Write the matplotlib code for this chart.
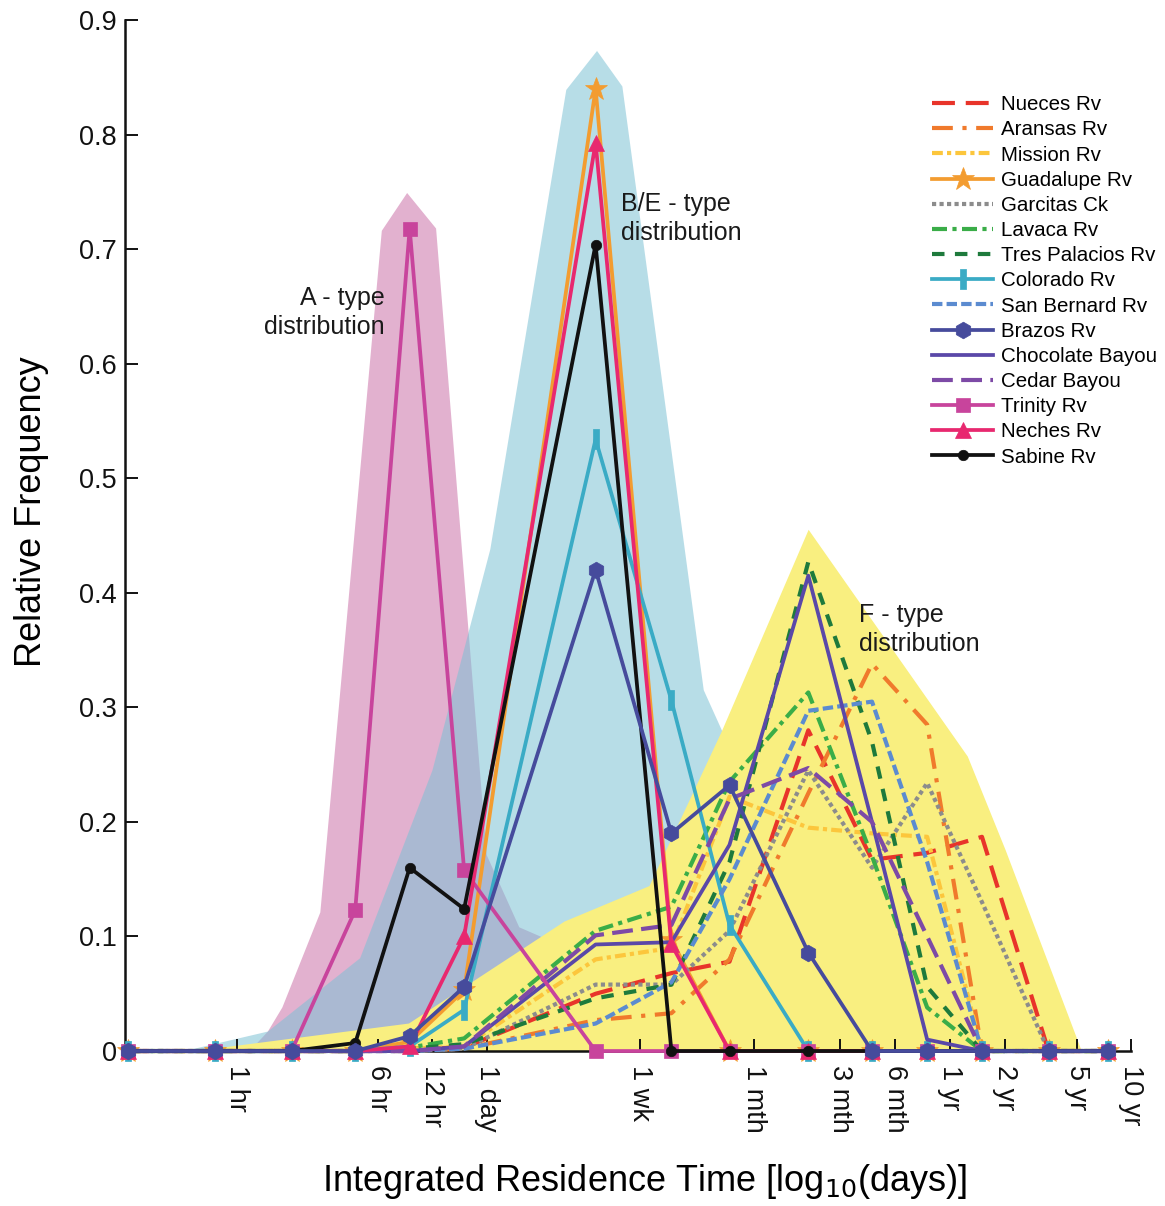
import numpy as np
import matplotlib
matplotlib.use("Agg")
import matplotlib.pyplot as plt
from matplotlib.path import Path

plt.rcParams['font.family'] = ['Liberation Sans', 'DejaVu Sans']

# bin centres (days): 0-30min, 30-60min, 1-3hr, 3-6hr, 6-12hr, 12-24hr, 1d-1wk,
# 1-2wk, 2wk-1mth, 1-3mth, 3-6mth, 6mth-1yr, 1-2yr, 2-5yr, 5-10yr
bin_days = [15/1440, 45/1440, 2/24, 4.5/24, 9/24, 18/24, 4, 10.5, 22,
            60, 135, 272.5, 547.5, 1277.5, 2737.5]

tick_days = [1/24, 0.25, 0.5, 1, 7, 30, 90, 180, 365, 730, 1825, 3650]
tick_names = ['1 hr', '6 hr', '12 hr', '1 day', '1 wk', '1 mth', '3 mth',
              '6 mth', '1 yr', '2 yr', '5 yr', '10 yr']

nueces = [0, 0, 0, 0, 0.002, 0.003, 0.05, 0.068, 0.078, 0.28, 0.167, 0.173, 0.187, 0, 0]
aransas = [0, 0, 0, 0, 0, 0.002, 0.027, 0.033, 0.08, 0.225, 0.338, 0.285, 0, 0, 0]
mission = [0, 0, 0, 0, 0.002, 0.004, 0.08, 0.09, 0.222, 0.195, 0.19, 0.187, 0, 0, 0]
guadalupe = [0, 0, 0, 0, 0.008, 0.053, 0.84, 0.097, 0, 0, 0, 0, 0, 0, 0]
garcitas = [0, 0, 0, 0, 0, 0.002, 0.058, 0.058, 0.105, 0.245, 0.16, 0.234, 0.13, 0, 0]
lavaca = [0, 0, 0, 0, 0.003, 0.011, 0.105, 0.126, 0.235, 0.313, 0.17, 0.038, 0, 0, 0]
tres_palacios = [0, 0, 0, 0, 0.002, 0.006, 0.046, 0.058, 0.165, 0.427, 0.27, 0.056, 0, 0, 0]
colorado = [0, 0, 0, 0, 0.004, 0.036, 0.534, 0.306, 0.11, 0, 0, 0, 0, 0, 0]
san_bernard = [0, 0, 0, 0, 0, 0.002, 0.024, 0.06, 0.15, 0.297, 0.305, 0.165, 0, 0, 0]
brazos = [0, 0, 0, 0, 0.013, 0.056, 0.42, 0.19, 0.232, 0.086, 0, 0, 0, 0, 0]
chocolate = [0, 0, 0, 0, 0, 0.004, 0.093, 0.095, 0.18, 0.415, 0.2, 0.01, 0, 0, 0]
cedar = [0, 0, 0, 0, 0, 0.004, 0.101, 0.11, 0.22, 0.247, 0.2, 0.1, 0, 0, 0]
trinity = [0, 0, 0, 0.123, 0.718, 0.158, 0, 0, 0, 0, 0, 0, 0, 0, 0]
neches = [0, 0, 0, 0, 0.004, 0.1, 0.793, 0.093, 0, 0, 0, 0, 0, 0, 0]
sabine = [0, 0, 0, 0.007, 0.16, 0.124, 0.704, 0, 0, 0, 0, 0, 0, 0, 0]

# envelopes of the three distribution types, x in log10(days)
a_env_x = [-1.31, -1.21, -1.13, -0.92, -0.58, -0.44, -0.28, -0.13, 0.0, 0.18, 0.34, 0.63]
a_env_y = [0, 0.017, 0.038, 0.121, 0.716, 0.749, 0.718, 0.424, 0.171, 0.108, 0.097, 0]
be_env_x = [-1.67, -1.21, -0.70, -0.30, 0.02, 0.44, 0.61, 0.75, 1.20, 1.30, 2.50]
be_env_y = [0, 0.017, 0.081, 0.245, 0.438, 0.839, 0.873, 0.842, 0.315, 0.28, 0]
f_env_x = [-1.61, -0.43, 0.43, 0.90, 1.30, 1.78, 2.66, 2.87, 3.29]
f_env_y = [0, 0.024, 0.113, 0.144, 0.279, 0.455, 0.257, 0.175, 0]

bar = Path([(-0.3, -1), (0.3, -1), (0.3, 1), (-0.3, 1), (-0.3, -1)])

series = [
    ('Nueces Rv', nueces, '#e8342a', (0, (5.5, 2.6)), None, 0),
    ('Aransas Rv', aransas, '#f07a2c', (0, (5, 2.3, 1, 2.3)), None, 0),
    ('Mission Rv', mission, '#fcc63c', (0, (2.6, 1, 1, 1)), None, 0),
    ('Guadalupe Rv', guadalupe, '#f39c30', '-', '*', 17),
    ('Garcitas Ck', garcitas, '#8c8c8c', (0, (1, 0.8)), None, 0),
    ('Lavaca Rv', lavaca, '#3aad48', (0, (3.6, 1.3, 1, 1.3)), None, 0),
    ('Tres Palacios Rv', tres_palacios, '#1e7a3c', (0, (3, 2.5)), None, 0),
    ('Colorado Rv', colorado, '#3aabc5', '-', bar, 14),
    ('San Bernard Rv', san_bernard, '#5b8bd0', (0, (2.5, 1)), None, 0),
    ('Brazos Rv', brazos, '#464b9c', '-', 'h', 12),
    ('Chocolate Bayou', chocolate, '#5a48a8', '-', None, 0),
    ('Cedar Bayou', cedar, '#7d4aa6', (0, (5, 2)), None, 0),
    ('Trinity Rv', trinity, '#c8449c', '-', 's', 10),
    ('Neches Rv', neches, '#e8286f', '-', '^', 11),
    ('Sabine Rv', sabine, '#111111', '-', 'o', 7.5),
]

x = np.log10(bin_days)

fig = plt.figure(figsize=(11.65, 12.06), dpi=100)
ax = fig.add_axes([0.1073, 0.1285, 0.8635, 0.8549])

ax.fill(a_env_x, a_env_y, color='#e2b1cf', lw=0, zorder=1)
ax.fill(be_env_x, be_env_y, color=(125/255, 193/255, 213/255), alpha=0.55, lw=0, zorder=1.1)
ax.fill(f_env_x, f_env_y, color='#f9ef80', lw=0, zorder=1.2)

handles = []
for name, vals, col, ls, mk, ms in series:
    dashed = ls != '-'
    z = 3.5 if name == 'Brazos Rv' else 3
    h, = ax.plot(x, vals, color=col, ls=ls, lw=3.0 if dashed else 2.7,
                 marker=mk, ms=ms, mfc=col, mec=col, mew=0.5,
                 clip_on=False, zorder=z, label=name)
    handles.append(h)

txt = dict(fontsize=18, linespacing=1.25, color='#1a1a1a', va='center')
ax.text(-0.563, 0.645, 'A - type\ndistribution', ha='right',
        multialignment='right', **txt)
ax.text(0.742, 0.727, 'B/E - type\ndistribution', ha='left', **txt)
ax.text(2.058, 0.368, 'F - type\ndistribution', ha='left', **txt)

ax.set_xlim(-2.0, np.log10(3650))
ax.set_ylim(0, 0.9)
ax.set_xticks(np.log10(tick_days))
ax.set_xticklabels(tick_names, rotation=-90, fontsize=19.5, va='top', ha='center')
ax.set_yticks(np.arange(0, 0.91, 0.1))
ax.set_yticklabels(['0'] + ['%.1f' % v for v in np.arange(0.1, 0.91, 0.1)], fontsize=19.5)
ax.tick_params(direction='in', length=9, width=1.4, colors='#111111')
ax.tick_params(axis='x', pad=10)
ax.tick_params(axis='y', pad=6)

for s in ['top', 'right']:
    ax.spines[s].set_visible(False)
for s in ['left', 'bottom']:
    ax.spines[s].set_linewidth(1.8)
    ax.spines[s].set_color('#111111')
    ax.spines[s].set_zorder(2.5)

ax.set_xlabel('Integrated Residence Time [log$_{10}$(days)]', fontsize=26)
ax.set_ylabel('Relative Frequency', fontsize=26)
ax.xaxis.set_label_coords(0.517, -0.108)
ax.yaxis.set_label_coords(-0.076, 0.523)

ax.legend(handles=handles, loc='upper left', bbox_to_anchor=(0.802, 0.927),
          frameon=False, fontsize=14.8, handlelength=3.0, handletextpad=0.35,
          labelspacing=0.3, borderaxespad=0, borderpad=0)

fig.savefig('out.png', dpi=100)
